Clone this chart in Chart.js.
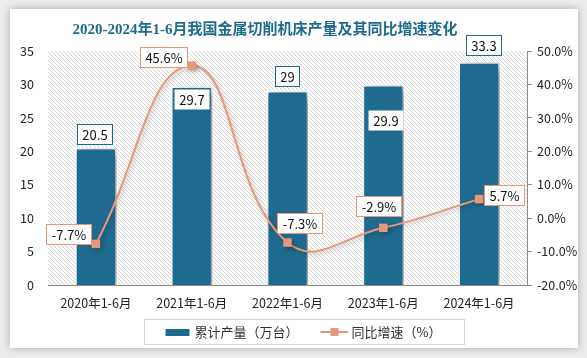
<!DOCTYPE html>
<html>
<head>
<meta charset="utf-8">
<script src="https://cdn.jsdelivr.net/npm/chart.js@4/dist/chart.umd.min.js"></script>
<style>
  html, body { margin: 0; padding: 0; background: #ececec; }
  #wrap { position: relative; width: 587px; height: 358px; overflow: hidden; }
  #card { position: absolute; left: 10px; top: 9px; width: 568px; height: 339px; background: #fff; box-shadow: 0 0 8px rgba(0,0,0,0.28); }
  canvas { position: absolute; left: 0; top: 0; }
</style>
</head>
<body>
<div id="wrap">
  <div id="card"></div>
  <canvas id="machineChart" width="587" height="358"></canvas>
</div>
<script>
// chart data
const titleText = '2020-2024年1-6月我国金属切削机床产量及其同比增速变化';
const categories = ['2020年1-6月', '2021年1-6月', '2022年1-6月', '2023年1-6月', '2024年1-6月'];
const outputValues = [20.5, 29.7, 29, 29.9, 33.3];
const growthValues = [-7.7, 45.6, -7.3, -2.9, 5.7];
const seriesNames = ['累计产量（万台）', '同比增速（%）'];

const BAR_COLOR = '#1f6b8f';
const LINE_COLOR = '#e9977a';
const TEXT_FONT = "'Noto Sans CJK SC', 'Noto Sans', sans-serif";

// label box placement (offsets from the bar top / point centre)
const barLabelOffsets = [[-1.5, -13.5], [0, 13], [-0.5, -15.5], [2.5, 35], [4, -17]];
const barLabelBorder = [true, false, true, false, true];
const lineLabelOffsets = [[-27, -9.5], [-28, -9], [12, -20], [-5, -22], [25, -4]];

// diagonal hatch pattern for the plot area
function makeHatch() {
    const c = document.createElement('canvas');
    c.width = 4;
    c.height = 4;
    const g = c.getContext('2d');
    g.fillStyle = '#ffffff';
    g.fillRect(0, 0, 4, 4);
    g.fillStyle = '#d6d6d6';
    for (let i = 0; i < 4; i++) {
        g.fillRect(i, i, 1, 1);
    }
    return g.createPattern(c, 'repeat');
}

const plotBackground = {
    id: 'plotBackground',
    beforeDraw(chart) {
        const { ctx, chartArea } = chart;
        ctx.save();
        ctx.fillStyle = makeHatch();
        ctx.fillRect(chartArea.left, chartArea.top, chartArea.right - chartArea.left, chartArea.bottom - chartArea.top);
        ctx.restore();

        // title
        ctx.save();
        ctx.font = "bold 15px 'Liberation Serif', 'Noto Sans CJK SC', serif";
        ctx.fillStyle = '#1f6b8f';
        ctx.textAlign = 'center';
        ctx.textBaseline = 'middle';
        ctx.fillText(titleText, 265, 30);
        ctx.restore();
    }
};

const shadows = {
    id: 'shadows',
    beforeDatasetDraw(chart, args) {
        const ctx = chart.ctx;
        ctx.save();
        if (args.index === 0) {
            ctx.shadowColor = 'rgba(0,0,0,0.45)';
            ctx.shadowBlur = 10;
            ctx.shadowOffsetX = 5;
            ctx.shadowOffsetY = 3;
        } else {
            ctx.shadowColor = 'rgba(0,0,0,0.25)';
            ctx.shadowBlur = 4;
            ctx.shadowOffsetX = 2;
            ctx.shadowOffsetY = 2;
        }
    },
    afterDatasetDraw(chart) {
        chart.ctx.restore();
    }
};

function drawBox(ctx, text, cx, cy, borderColor) {
    ctx.font = '13px ' + TEXT_FONT;
    const w = Math.round(ctx.measureText(text).width + 10);
    const h = 20;
    const x = Math.round(cx - w / 2) + 0.5;
    const y = Math.round(cy - h / 2) + 0.5;
    ctx.fillStyle = '#ffffff';
    ctx.fillRect(x, y, w, h);
    if (borderColor) {
        ctx.strokeStyle = borderColor;
        ctx.lineWidth = 1;
        ctx.strokeRect(x, y, w, h);
    }
    ctx.fillStyle = '#111';
    ctx.textAlign = 'center';
    ctx.textBaseline = 'middle';
    ctx.fillText(text, x + w / 2, y + h / 2 + 1);
}

const valueLabels = {
    id: 'valueLabels',
    afterDatasetsDraw(chart) {
        const ctx = chart.ctx;
        ctx.save();
        chart.getDatasetMeta(0).data.forEach((bar, i) => {
            const off = barLabelOffsets[i];
            drawBox(ctx, String(outputValues[i]), bar.x + off[0], bar.y + off[1], barLabelBorder[i] ? BAR_COLOR : null);
        });
        chart.getDatasetMeta(1).data.forEach((pt, i) => {
            const off = lineLabelOffsets[i];
            drawBox(ctx, growthValues[i].toFixed(1) + '%', pt.x + off[0], pt.y + off[1], LINE_COLOR);
        });
        ctx.restore();
    }
};

const boxedLegend = {
    id: 'boxedLegend',
    afterDraw(chart) {
        const ctx = chart.ctx;
        ctx.save();
        ctx.font = '13px ' + TEXT_FONT;
        const w1 = ctx.measureText(seriesNames[0]).width;
        const w2 = ctx.measureText(seriesNames[1]).width;
        const itemsWidth = 24 + 5 + w1 + 22 + 28 + 3 + w2;
        const boxW = itemsWidth + 44;
        const boxX = Math.round(303.5 - boxW / 2) + 0.5;
        const boxY = 319.5;
        const cy = 332;
        ctx.strokeStyle = '#d4d4d4';
        ctx.lineWidth = 1;
        ctx.strokeRect(boxX, boxY, Math.round(boxW), 25);

        let x = boxX + 21;
        ctx.fillStyle = BAR_COLOR;
        ctx.fillRect(x, cy - 3, 24, 7);
        x += 29;
        ctx.fillStyle = '#333';
        ctx.textAlign = 'left';
        ctx.textBaseline = 'middle';
        ctx.fillText(seriesNames[0], x, cy);
        x += w1 + 22;
        ctx.strokeStyle = LINE_COLOR;
        ctx.lineWidth = 2;
        ctx.beginPath();
        ctx.moveTo(x, cy);
        ctx.lineTo(x + 28, cy);
        ctx.stroke();
        ctx.fillStyle = LINE_COLOR;
        ctx.fillRect(x + 10, cy - 4, 8, 8);
        x += 31;
        ctx.fillStyle = '#333';
        ctx.fillText(seriesNames[1], x, cy);
        ctx.restore();
    }
};

const ctx = document.getElementById('machineChart').getContext('2d');
const machineChart = new Chart(ctx, {
    type: 'bar',
    data: {
        labels: categories,
        datasets: [{
            label: seriesNames[0],
            data: outputValues,
            backgroundColor: BAR_COLOR,
            borderColor: '#ffffff',
            borderWidth: 1.5,
            categoryPercentage: 1,
            barPercentage: 0.43,
            yAxisID: 'y',
            order: 1
        }, {
            type: 'line',
            label: seriesNames[1],
            data: growthValues,
            borderColor: LINE_COLOR,
            borderWidth: 2,
            backgroundColor: LINE_COLOR,
            pointStyle: 'rect',
            pointRadius: 6,
            pointBorderWidth: 0,
            tension: 0.45,
            yAxisID: 'y1',
            order: 0
        }]
    },
    options: {
        responsive: false,
        animation: false,
        layout: {
            padding: { top: 51, bottom: 43, left: 0, right: 0 }
        },
        plugins: {
            legend: { display: false },
            title: { display: false },
            tooltip: { enabled: false }
        },
        scales: {
            x: {
                grid: { display: false, drawTicks: false },
                border: { display: true, color: '#8c8c8c', width: 1 },
                ticks: {
                    color: '#222',
                    padding: 11,
                    maxRotation: 0,
                    font: { size: 12.5, family: TEXT_FONT }
                },
                afterFit(scale) { scale.height = 30; }
            },
            y: {
                position: 'left',
                min: 0,
                max: 35,
                grid: { display: false, drawTicks: false },
                border: { display: false },
                ticks: {
                    stepSize: 5,
                    color: '#222',
                    padding: 14,
                    font: { size: 12.5, family: TEXT_FONT }
                },
                afterFit(scale) { scale.width = 48; }
            },
            y1: {
                position: 'right',
                min: -20,
                max: 50,
                grid: {
                    display: true,
                    drawOnChartArea: false,
                    drawTicks: true,
                    tickLength: 5,
                    color: '#8c8c8c'
                },
                border: { display: true, color: '#8c8c8c', width: 1 },
                ticks: {
                    stepSize: 10,
                    color: '#222',
                    padding: 5,
                    font: { size: 12.5, family: TEXT_FONT },
                    callback: (v) => v.toFixed(1) + '%'
                },
                afterFit(scale) { scale.width = 60; }
            }
        }
    },
    plugins: [plotBackground, shadows, valueLabels, boxedLegend]
});
</script>
</body>
</html>
